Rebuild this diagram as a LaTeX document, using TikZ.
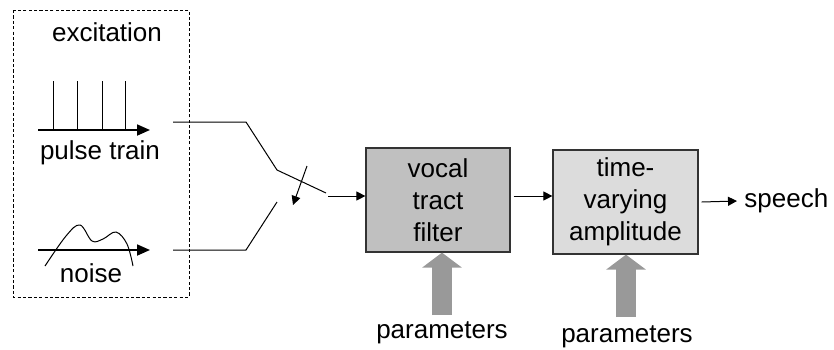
\documentclass[tikz,border=0pt]{standalone}
\usepackage{fontspec}
\setmainfont{Liberation Sans}
\usepackage{xcolor}
\usepackage{tikz}
\usetikzlibrary{arrows.meta,calc,positioning}
\definecolor{filtergray}{HTML}{C0C0C0}
\definecolor{ampgray}{HTML}{DCDCDC}
\definecolor{pargray}{HTML}{999999}

\begin{document}
\begin{tikzpicture}[x=0.5pt,y=-0.5pt,
    lbl/.style={font=\fontsize{13}{16}\selectfont,inner sep=0pt},
    blockbox/.style={draw=black!80,line width=0.6pt,align=center,
      minimum width=72pt,minimum height=52pt,inner sep=0pt,
      font=\fontsize{13}{16}\selectfont},
    sig/.style={line width=0.5pt,-{Triangle[length=4.5pt,width=4.5pt]}},
    axis/.style={line width=0.9pt,-{Triangle[length=6.5pt,width=5.5pt]}},
    parrow/.style={pargray,line width=10pt,-{Triangle[length=7.5pt,width=19.5pt]}}]
  \useasboundingbox (0,0) rectangle (834,349);
  % excitation sources
  \draw[line width=0.5pt,dash pattern=on 1.6pt off 1.1pt] (13,10) rectangle (189,297);
  \node[lbl] (exc) at (107,32) {excitation};
  \coordinate (pa) at (38,130);
  \coordinate (pb) at (150,130);
  \foreach \px in {53,77,102,125}
    \draw[line width=0.5pt] (\px,130) -- (\px,81);
  \draw[axis] (pa) -- (pb);
  \node[lbl] (pulse) at (100,153) {pulse train};
  \coordinate (na) at (38,250);
  \coordinate (nb) at (150,250);
  \draw[axis] (na) -- (nb);
  \draw[line width=0.5pt] plot[smooth,tension=0.6] coordinates
      {(45,266) (66,236) (80,225) (92,241) (103,239) (116,232) (127,244) (133,266)};
  \node[lbl] (noise) at (91,273) {noise};
  % switch
  \coordinate (pw) at (173,122);
  \coordinate (pk) at (246,122);
  \coordinate (sw) at (277,170);
  \coordinate (swend) at (326,193);
  \coordinate (nw) at (173,250);
  \coordinate (nk) at (246,250);
  \coordinate (nend) at (277,202);
  \draw[line width=0.5pt] (pw) -- (pk) -- (sw) -- (swend);
  \draw[line width=0.5pt] (nw) -- (nk) -- (nend);
  \coordinate (swa) at (307,166);
  \coordinate (swb) at (293,205);
  \draw[sig] (swa) -- (swb);
  % filter chain
  \node[blockbox,fill=filtergray] (vtf) at (438,200) {vocal\\tract\\filter};
  \node[blockbox,fill=ampgray,minimum width=72.5pt] (amp) at (625.5,202) {time-\\varying\\amplitude};
  \coordinate (in) at (328,196);
  \draw[sig] (in) -- (in -| vtf.west);
  \draw[sig] ($(vtf.east)+(3,-4)$) -- (amp.west |- {$(vtf.east)+(0,-4)$});
  \node[lbl,anchor=west] (speech) at (744,201) {speech};
  \draw[sig] ($(amp.east)+(3,0)$) -- ($(speech.west)+(-7,0)$);
  % parameters
  \node[lbl] (par1) at (442,333) {parameters};
  \node[lbl] (par2) at (627,337) {parameters};
  \coordinate (pv) at (442,315);
  \coordinate (pam) at (626,317);
  \draw[parrow] (pv) -- (pv |- vtf.south);
  \draw[parrow] (pam) -- (pam |- amp.south);
\end{tikzpicture}
\end{document}
